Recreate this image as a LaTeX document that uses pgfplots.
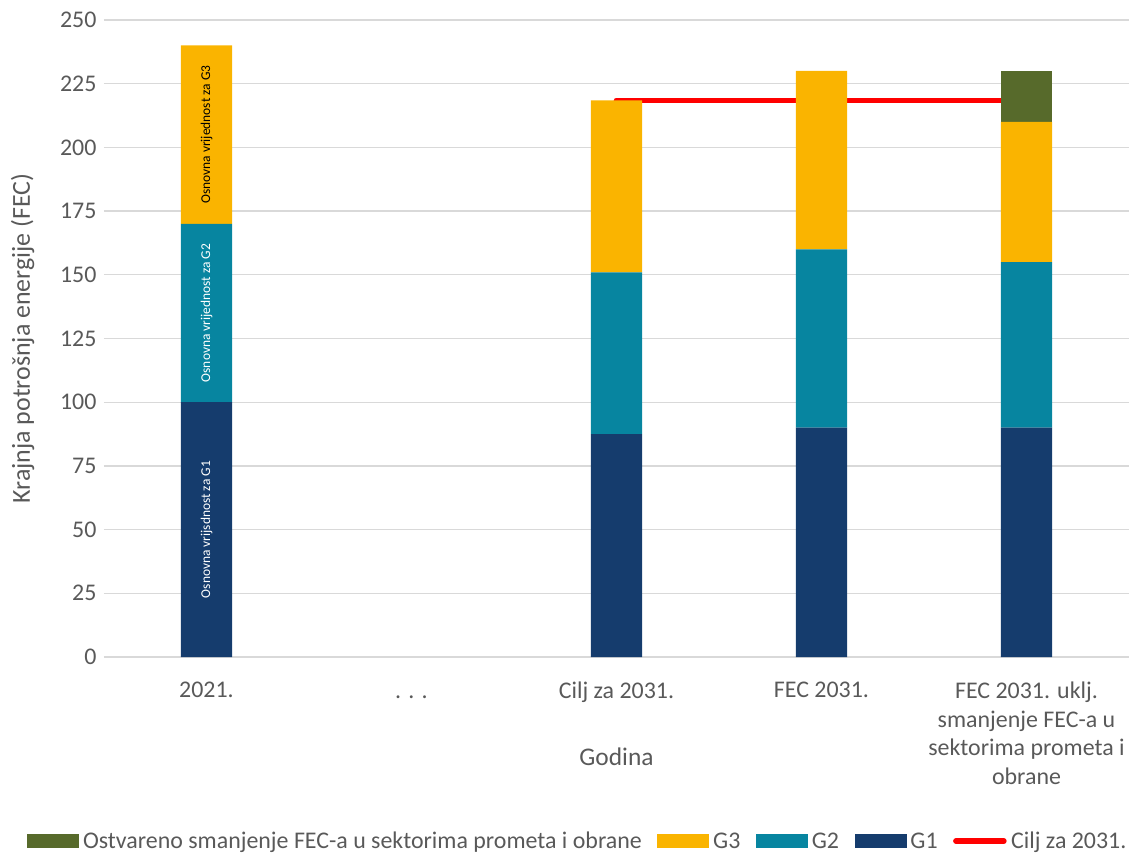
\documentclass[border=0pt]{standalone}
\usepackage{pgfplots}
\pgfplotsset{compat=1.18}
\usepackage{fontspec}
\setmainfont{Carlito}
\definecolor{gone}{HTML}{153C6D}
\definecolor{gtwo}{HTML}{0785A0}
\definecolor{gthree}{HTML}{FAB400}
\definecolor{fecgreen}{HTML}{576A2B}
\definecolor{txtgray}{HTML}{595959}
\definecolor{gridgray}{HTML}{D9D9D9}
\begin{document}
\begin{tikzpicture}
\begin{axis}[
  at={(0,0)}, anchor=south west,
  scale only axis, width=1025bp, height=637bp,
  xmin=-0.5, xmax=4.5, ymin=0, ymax=250,
  ybar stacked, bar width=0.25,
  ytick={0,25,...,250},
  xtick={0,1,2,3,4},
  xticklabels={2021.,{\vphantom{Cilj}. . .},Cilj za 2031.,FEC 2031.,{FEC 2031. uklj.\\smanjenje FEC-a u\\sektorima prometa i\\obrane}},
  axis line style={draw=none},
  major tick length=0pt,
  ymajorgrids, grid style={gridgray, line width=1.3bp},
  tick label style={font=\fontsize{24}{29}\selectfont, text=txtgray},
  /pgf/number format/assume math mode=true,
  xticklabel style={align=center, yshift=-21bp},
  yticklabel style={xshift=-4bp},
  xlabel={Godina},
  ylabel={Krajnja potrošnja energije (FEC)},
  xlabel style={font=\fontsize{25.5}{30}\selectfont, text=txtgray, at={(axis description cs:0.5,-0.157)}, anchor=center},
  ylabel style={font=\fontsize{26}{30}\selectfont, text=txtgray, at={(axis description cs:-0.0795,0.5)}, anchor=center},
  legend columns=-1,
  legend style={draw=none, fill=none, at={(-0.075,-0.289)}, anchor=west,
    inner sep=0pt, outer sep=0pt,
    font=\fontsize{24}{28}\selectfont, text=txtgray,
    /tikz/every even column/.append style={column sep=11bp},
    nodes={inner xsep=4.5bp, inner ysep=2bp}},
  legend cell align=left,
]
\addplot[fill=gone, draw=none, forget plot] coordinates {(0,100) (2,87.5) (3,90) (4,90)};
\addplot[fill=gtwo, draw=none, forget plot] coordinates {(0,70) (2,63.5) (3,70) (4,65)};
\addplot[fill=gthree, draw=none, forget plot] coordinates {(0,70) (2,67.5) (3,70) (4,55)};
\addplot[fill=fecgreen, draw=none, forget plot] coordinates {(0,0) (2,0) (3,0) (4,20)};
\addplot[sharp plot, stack plots=false, red, line width=5.5bp, line cap=round, forget plot] coordinates {(2,218.5) (4,218.5)};
\addlegendimage{legend image code/.code={\fill[fecgreen] (0bp,-6.5bp) rectangle (51bp,6.5bp);}}
\addlegendentry{Ostvareno smanjenje FEC-a u sektorima prometa i obrane}
\addlegendimage{legend image code/.code={\fill[gthree] (0bp,-6.5bp) rectangle (51bp,6.5bp);}}
\addlegendentry{G3}
\addlegendimage{legend image code/.code={\fill[gtwo] (0bp,-6.5bp) rectangle (51bp,6.5bp);}}
\addlegendentry{G2}
\addlegendimage{legend image code/.code={\fill[gone] (0bp,-6.5bp) rectangle (51bp,6.5bp);}}
\addlegendentry{G1}
\addlegendimage{legend image code/.code={\draw[red, line width=5.5bp, line cap=round] (3bp,0bp) -- (51bp,0bp);}}
\addlegendentry{Cilj za 2031.}
\coordinate (lg1) at (axis cs:0,50);
\coordinate (lg2) at (axis cs:0,135);
\coordinate (lg3) at (axis cs:0,205);
\end{axis}
\node[rotate=90, text=white, font=\fontsize{13.5}{16}\selectfont] at (lg1) {Osnovna vrijsdnost za G1};
\node[rotate=90, text=white, font=\fontsize{13.5}{16}\selectfont] at (lg2) {Osnovna vrijednost za G2};
\node[rotate=90, text=black, font=\fontsize{13.5}{16}\selectfont] at (lg3) {Osnovna vrijednost za G3};
\pgfresetboundingbox
\useasboundingbox (-104bp,-198bp) rectangle (1025bp,657bp);
\end{tikzpicture}
\end{document}
